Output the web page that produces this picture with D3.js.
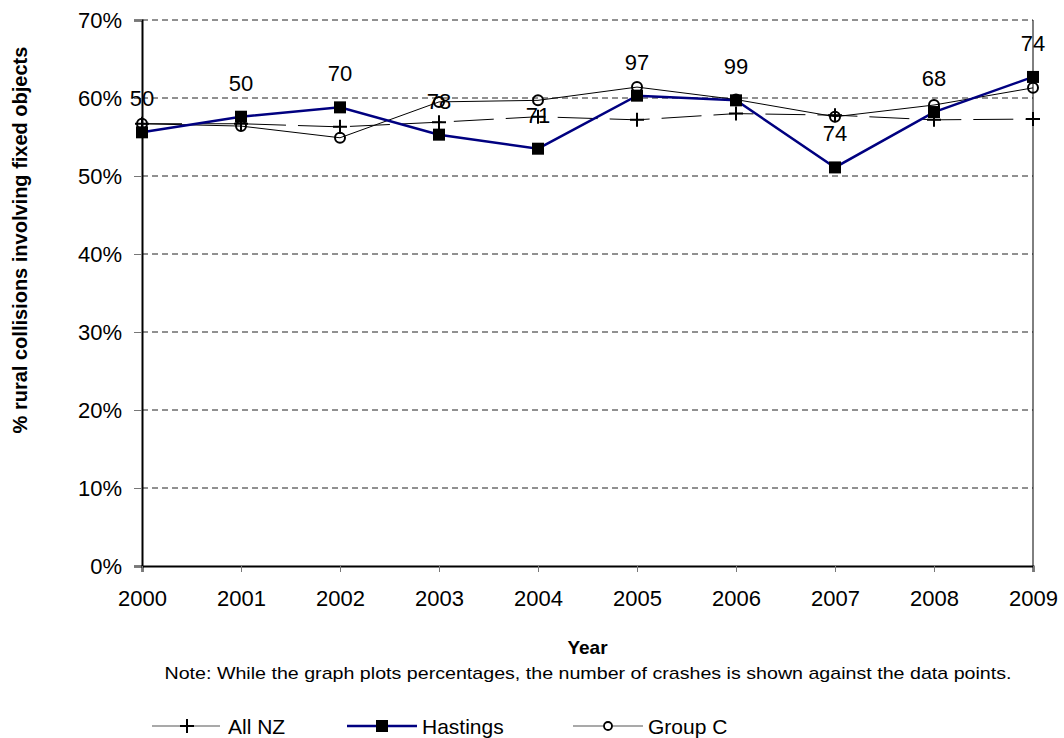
<!DOCTYPE html>
<html>
<head>
<meta charset="utf-8">
<script src="https://cdnjs.cloudflare.com/ajax/libs/d3/7.8.5/d3.min.js"></script>
<style>
  body { margin: 0; background: #fff; }
  text { font-family: "Liberation Sans", Arial, sans-serif; fill: #000; }
</style>
</head>
<body>
<script>
var years = [2000, 2001, 2002, 2003, 2004, 2005, 2006, 2007, 2008, 2009];
var allNZ = [56.7, 56.7, 56.3, 56.9, 57.6, 57.2, 58.0, 57.8, 57.2, 57.3];
var hastings = [55.6, 57.6, 58.8, 55.3, 53.5, 60.3, 59.7, 51.1, 58.2, 62.7];
var groupC = [56.7, 56.4, 54.9, 59.5, 59.7, 61.4, 59.8, 57.6, 59.1, 61.3];
var crashCounts = [50, 50, 70, 78, 71, 97, 99, 74, 68, 74];
var yTicks = [0, 10, 20, 30, 40, 50, 60, 70];

var W = 1064, H = 738;
var plotLeft = 142, plotRight = 1033, plotTop = 20, plotBottom = 566;

var svg = d3.select("body").append("svg")
  .attr("width", W)
  .attr("height", H);

var x = d3.scaleLinear().domain([2000, 2009]).range([plotLeft, plotRight]);
var y = d3.scaleLinear().domain([0, 70]).range([plotBottom, plotTop]);

// gridlines
svg.append("g").selectAll("line")
  .data(yTicks.filter(function(d) { return d > 0; }))
  .enter().append("line")
  .attr("x1", plotLeft).attr("x2", plotRight)
  .attr("y1", function(d) { return y(d); })
  .attr("y2", function(d) { return y(d); })
  .attr("stroke", "#222")
  .attr("stroke-width", 1)
  .attr("stroke-dasharray", "6,4");

// right border
svg.append("line")
  .attr("x1", plotRight).attr("x2", plotRight)
  .attr("y1", plotTop).attr("y2", plotBottom)
  .attr("stroke", "#000").attr("stroke-width", 1);

// y axis
var yAxis = svg.append("g")
  .attr("transform", "translate(" + plotLeft + ",0)")
  .call(d3.axisLeft(y).tickValues(yTicks).tickSize(8).tickPadding(12)
    .tickFormat(function(d) { return d + "%"; }));
yAxis.select(".domain").attr("stroke", "#000").attr("stroke-width", 2);
yAxis.selectAll(".tick line").attr("stroke", "#777");
yAxis.selectAll("text").style("font-size", "22px")
  .style("font-family", "'Liberation Sans', Arial, sans-serif");

// x axis
var xAxis = svg.append("g")
  .attr("transform", "translate(0," + plotBottom + ")")
  .call(d3.axisBottom(x).tickValues(years).tickSize(6).tickPadding(18)
    .tickFormat(d3.format("d")));
xAxis.select(".domain").attr("stroke", "#000").attr("stroke-width", 2);
xAxis.selectAll(".tick line").attr("stroke", "#777");
xAxis.selectAll("text").style("font-size", "22px")
  .style("font-family", "'Liberation Sans', Arial, sans-serif");

var line = function(vals) {
  return d3.line()
    .x(function(d, i) { return x(years[i]); })
    .y(function(d) { return y(d); })(vals);
};

// All NZ
svg.append("path")
  .attr("d", line(allNZ))
  .attr("fill", "none")
  .attr("stroke", "#000")
  .attr("stroke-width", 1)
  .attr("stroke-dasharray", "40,12");

svg.append("g").selectAll("path")
  .data(allNZ)
  .enter().append("path")
  .attr("d", function(d, i) {
    var cx = x(years[i]), cy = y(d);
    return "M" + (cx - 7) + "," + cy + "H" + (cx + 7) + "M" + cx + "," + (cy - 7) + "V" + (cy + 7);
  })
  .attr("stroke", "#000")
  .attr("stroke-width", 2);

// Group C
svg.append("path")
  .attr("d", line(groupC))
  .attr("fill", "none")
  .attr("stroke", "#000")
  .attr("stroke-width", 1);

svg.append("g").selectAll("circle")
  .data(groupC)
  .enter().append("circle")
  .attr("cx", function(d, i) { return x(years[i]); })
  .attr("cy", function(d) { return y(d); })
  .attr("r", 5)
  .attr("fill", "none")
  .attr("stroke", "#000")
  .attr("stroke-width", 2);

// Hastings
svg.append("path")
  .attr("d", line(hastings))
  .attr("fill", "none")
  .attr("stroke", "#000080")
  .attr("stroke-width", 2.5);

svg.append("g").selectAll("rect")
  .data(hastings)
  .enter().append("rect")
  .attr("x", function(d, i) { return x(years[i]) - 6; })
  .attr("y", function(d) { return y(d) - 6; })
  .attr("width", 12)
  .attr("height", 12)
  .attr("fill", "#000");

// crash count labels above Hastings points
svg.append("g").selectAll("text")
  .data(crashCounts)
  .enter().append("text")
  .attr("x", function(d, i) { return x(years[i]); })
  .attr("y", function(d, i) { return y(hastings[i]) - 26; })
  .attr("text-anchor", "middle")
  .style("font-size", "22px")
  .text(function(d) { return d; });

// axis titles
svg.append("text")
  .attr("transform", "translate(27," + 240 + ") rotate(-90)")
  .attr("text-anchor", "middle")
  .style("font-size", "20px")
  .style("font-weight", "bold")
  .text("% rural collisions involving fixed objects");

svg.append("text")
  .attr("x", (plotLeft + plotRight) / 2)
  .attr("y", 654)
  .attr("text-anchor", "middle")
  .style("font-size", "19px")
  .style("font-weight", "bold")
  .text("Year");

svg.append("text")
  .attr("x", 588)
  .attr("y", 679)
  .attr("text-anchor", "middle")
  .attr("textLength", 847)
  .attr("lengthAdjust", "spacingAndGlyphs")
  .style("font-size", "17px")
  .text("Note: While the graph plots percentages, the number of crashes is shown against the  data points.");

// legend
var legend = svg.append("g").attr("transform", "translate(0,726)");

legend.append("line").attr("x1", 152).attr("x2", 220).attr("y1", 0).attr("y2", 0)
  .attr("stroke", "#555").attr("stroke-width", 1.2).attr("stroke-dasharray", "28,12,28");
legend.append("path").attr("d", "M180,0H194M187,-7V7").attr("stroke", "#000").attr("stroke-width", 2);
legend.append("text").attr("x", 228).attr("y", 8).style("font-size", "21px").text("All NZ");

legend.append("line").attr("x1", 347).attr("x2", 417).attr("y1", 0).attr("y2", 0)
  .attr("stroke", "#000080").attr("stroke-width", 2.5);
legend.append("rect").attr("x", 376).attr("y", -6).attr("width", 12).attr("height", 12).attr("fill", "#000");
legend.append("text").attr("x", 422).attr("y", 8).style("font-size", "21px").text("Hastings");

legend.append("line").attr("x1", 573).attr("x2", 643).attr("y1", 0).attr("y2", 0)
  .attr("stroke", "#555").attr("stroke-width", 1.2);
legend.append("circle").attr("cx", 608).attr("cy", 0).attr("r", 4)
  .attr("fill", "#fff").attr("stroke", "#000").attr("stroke-width", 1.8);
legend.append("text").attr("x", 648).attr("y", 8).style("font-size", "21px").text("Group C");
</script>
</body>
</html>
